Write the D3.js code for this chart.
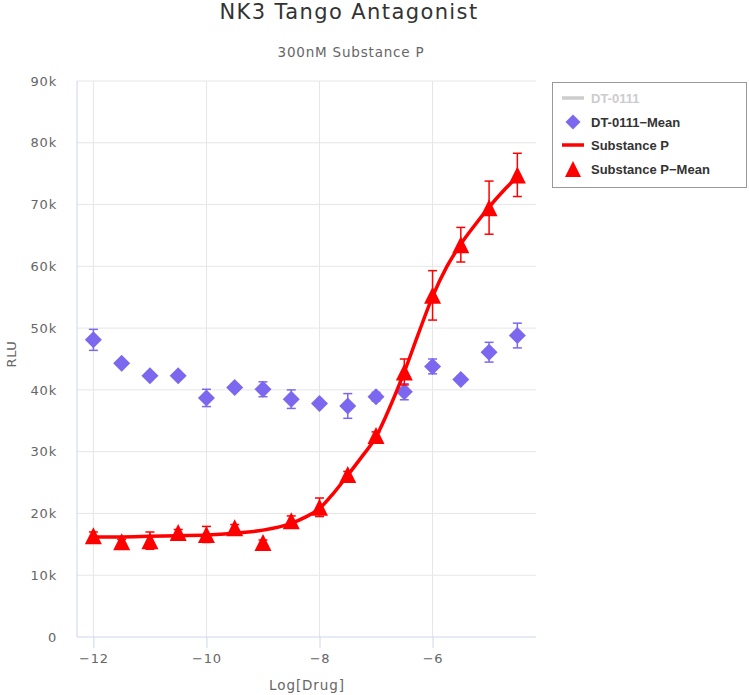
<!DOCTYPE html>
<html>
<head>
<meta charset="UTF-8">
<title>NK3 Tango Antagonist</title>
<script src="https://d3js.org/d3.v7.min.js"></script>
<style>
  body { margin: 0; background: #fff; }
  svg { display: block; }
</style>
</head>
<body>
<div id="chart"></div>
<script>
// log concentrations
var logDose = [-12, -11.5, -11, -10.5, -10, -9.5, -9, -8.5, -8, -7.5, -7, -6.5, -6, -5.5, -5, -4.5];

// DT-0111 means and errors (RLU)
var dtMean = [48100, 44300, 42300, 42300, 38700, 40400, 40100, 38500, 37800, 37400, 38900, 39700, 43800, 41700, 46100, 48800];
var dtErr  = [1700, 400, 400, 400, 1400, 500, 1200, 1500, 300, 2000, 700, 1300, 1200, 500, 1600, 2000];

// Substance P means and errors
var spMean = [16400, 15400, 15600, 16900, 16600, 17700, 15300, 18800, 21000, 26300, 32600, 42900, 55300, 63500, 69500, 74800];
var spErr  = [600, 400, 1400, 500, 1300, 500, 400, 800, 1500, 500, 600, 2100, 4000, 2800, 4300, 3500];

// fitted Substance P curve
var fitX = [-12, -11.5, -11, -10.5, -10, -9.5, -9, -8.5, -8.25, -8, -7.75, -7.5, -7.25, -7, -6.75, -6.5, -6.25, -6, -5.75, -5.5, -5.25, -5, -4.75, -4.5];
var fitY = [16200, 16200, 16300, 16400, 16500, 16800, 17300, 18400, 19400, 20800, 23300, 26200, 29200, 32400, 37300, 42900, 49100, 55100, 59900, 63600, 66700, 69600, 72200, 74500];

var xTicks = [-12, -10, -8, -6];
var yTicks = [0, 10000, 20000, 30000, 40000, 50000, 60000, 70000, 80000, 90000];

var legendItems = ["DT-0111", "DT-0111\u2212Mean", "Substance P", "Substance P\u2212Mean"];

var width = 749, height = 695;
var plot = { left: 77, right: 536, top: 81, bottom: 637 };
var purple = "#7b68ee", red = "#ff0000";
var font = "'DejaVu Sans', Verdana, sans-serif";

var svg = d3.select("#chart").append("svg")
  .attr("width", width)
  .attr("height", height);

var x = d3.scaleLinear().domain([-12.29, -4.17]).range([plot.left, plot.right]);
var y = d3.scaleLinear().domain([0, 90000]).range([plot.bottom, plot.top]);

// titles
svg.append("text")
  .attr("x", 349).attr("y", 19)
  .attr("text-anchor", "middle")
  .style("font-family", font).style("font-size", "21px").style("letter-spacing", "1.4px")
  .style("fill", "#333")
  .text("NK3 Tango Antagonist");

svg.append("text")
  .attr("x", 351).attr("y", 57)
  .attr("text-anchor", "middle")
  .style("font-family", font).style("font-size", "13.5px").style("letter-spacing", "0.8px")
  .style("fill", "#666")
  .text("300nM Substance P");

// grid
svg.append("g").selectAll("line")
  .data(yTicks.slice(1))
  .enter().append("line")
  .attr("x1", plot.left).attr("x2", plot.right)
  .attr("y1", function(d) { return y(d); }).attr("y2", function(d) { return y(d); })
  .attr("stroke", "#e6e6e6").attr("stroke-width", 1);

svg.append("g").selectAll("line")
  .data(xTicks)
  .enter().append("line")
  .attr("x1", function(d) { return x(d); }).attr("x2", function(d) { return x(d); })
  .attr("y1", plot.top).attr("y2", plot.bottom)
  .attr("stroke", "#e6e6e6").attr("stroke-width", 1);

// axes
var xAxis = d3.axisBottom(x).tickValues(xTicks).tickSize(11).tickPadding(6);
var gx = svg.append("g")
  .attr("transform", "translate(0," + plot.bottom + ")")
  .call(xAxis);
gx.select(".domain").attr("d", "M" + plot.left + ",0H" + plot.right).attr("stroke", "#ccd6eb");
gx.selectAll(".tick line").attr("stroke", "#ccd6eb");
gx.selectAll(".tick text")
  .style("font-family", font).style("font-size", "13px").style("letter-spacing", "0.8px")
  .attr("fill", "#666");

var yAxis = d3.axisLeft(y).tickValues(yTicks).tickSize(0).tickPadding(20)
  .tickFormat(function(d) { return d === 0 ? "0" : (d / 1000) + "k"; });
var gy = svg.append("g")
  .attr("transform", "translate(" + plot.left + ",0)")
  .call(yAxis);
gy.select(".domain").attr("d", "M0," + plot.top + "V" + plot.bottom).attr("stroke", "#ccd6eb");
gy.selectAll(".tick text")
  .style("font-family", font).style("font-size", "13px").style("letter-spacing", "0.8px")
  .attr("fill", "#666");

// axis titles
svg.append("text")
  .attr("x", 307).attr("y", 690)
  .attr("text-anchor", "middle")
  .style("font-family", font).style("font-size", "13.5px").style("letter-spacing", "0.9px")
  .style("fill", "#666")
  .text("Log[Drug]");

svg.append("text")
  .attr("transform", "translate(16,354) rotate(-90)")
  .attr("text-anchor", "middle")
  .style("font-family", font).style("font-size", "13px").style("letter-spacing", "0.6px")
  .style("fill", "#666")
  .text("RLU");

// marker shapes
function diamond(r) { return "M0," + (-r) + "L" + r + ",0L0," + r + "L" + (-r) + ",0Z"; }
function triangle(r) { return "M0," + (-r) + "L" + r + "," + r + "L" + (-r) + "," + r + "Z"; }

function errorBars(means, errs, color) {
  var g = svg.append("g").attr("stroke", color).attr("stroke-width", 1.5).attr("fill", "none");
  var idx = d3.range(logDose.length);
  g.selectAll(".v").data(idx).enter().append("line")
    .attr("x1", function(i) { return x(logDose[i]); })
    .attr("x2", function(i) { return x(logDose[i]); })
    .attr("y1", function(i) { return y(means[i] - errs[i]); })
    .attr("y2", function(i) { return y(means[i] + errs[i]); });
  [-1, 1].forEach(function(s) {
    g.selectAll(".w" + s).data(idx).enter().append("line")
      .attr("x1", function(i) { return x(logDose[i]) - 4.5; })
      .attr("x2", function(i) { return x(logDose[i]) + 4.5; })
      .attr("y1", function(i) { return y(means[i] + s * errs[i]); })
      .attr("y2", function(i) { return y(means[i] + s * errs[i]); });
  });
}

// DT-0111 mean
errorBars(dtMean, dtErr, purple);
svg.append("g").selectAll("path")
  .data(dtMean)
  .enter().append("path")
  .attr("d", diamond(8.5))
  .attr("transform", function(d, i) { return "translate(" + x(logDose[i]) + "," + y(d) + ")"; })
  .attr("fill", purple);

// Substance P fit
var line = d3.line()
  .x(function(d, i) { return x(fitX[i]); })
  .y(function(d) { return y(d); })
  .curve(d3.curveMonotoneX);
svg.append("path")
  .datum(fitY)
  .attr("d", line)
  .attr("fill", "none")
  .attr("stroke", red)
  .attr("stroke-width", 3.5);

// Substance P mean
errorBars(spMean, spErr, red);
svg.append("g").selectAll("path")
  .data(spMean)
  .enter().append("path")
  .attr("d", triangle(8.5))
  .attr("transform", function(d, i) { return "translate(" + x(logDose[i]) + "," + y(d) + ")"; })
  .attr("fill", red);

// legend
var legend = svg.append("g");
legend.append("rect")
  .attr("x", 552.5).attr("y", 82.5)
  .attr("width", 194).attr("height", 105)
  .attr("fill", "#fff").attr("stroke", "#999").attr("stroke-width", 1);

var legendY = [98, 122, 145, 169];
var items = legend.selectAll(".item")
  .data(legendItems)
  .enter().append("g")
  .attr("transform", function(d, i) { return "translate(573," + legendY[i] + ")"; });

items.append("text")
  .attr("x", 18).attr("y", 4.5)
  .style("font-family", "'Liberation Sans', Arial, sans-serif")
  .style("font-size", "13px").style("font-weight", "bold")
  .style("fill", function(d, i) { return i === 0 ? "#cccccc" : "#333"; })
  .text(function(d) { return d; });

items.filter(function(d, i) { return i === 0 || i === 2; })
  .append("line")
  .attr("x1", -11).attr("x2", 11)
  .attr("stroke", function(d, i) { return i === 0 ? "#cccccc" : red; })
  .attr("stroke-width", 3.5);

items.filter(function(d, i) { return i === 1; })
  .append("path").attr("d", diamond(7.5)).attr("fill", purple);

items.filter(function(d, i) { return i === 3; })
  .append("path").attr("d", triangle(8)).attr("fill", red);
</script>
</body>
</html>
